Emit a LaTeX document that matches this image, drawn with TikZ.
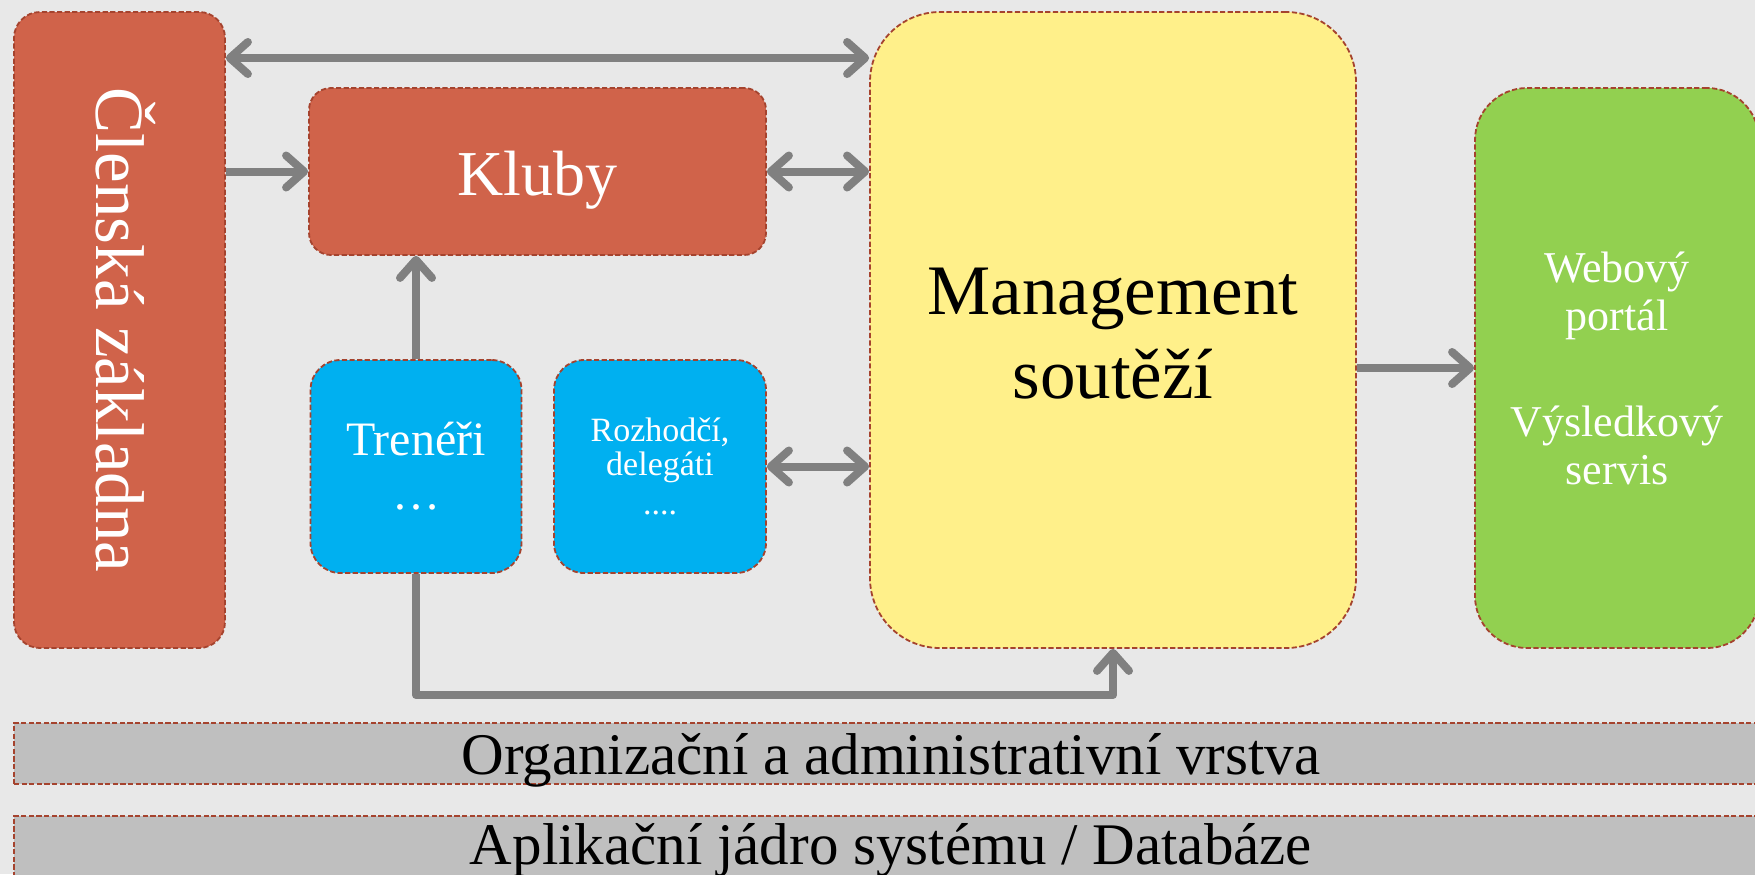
\documentclass[tikz,border=0pt]{standalone}
\usepackage{fontspec}
\setmainfont{Liberation Serif}
\usetikzlibrary{arrows.meta}

\definecolor{bggray}{HTML}{E8E8E8}
\definecolor{rust}{HTML}{D0634A}
\definecolor{lemon}{HTML}{FFF08A}
\definecolor{sky}{HTML}{00B0F0}
\definecolor{leaf}{HTML}{92D050}
\definecolor{layergray}{HTML}{BFBFBF}
\definecolor{edgered}{HTML}{A5432E}
\definecolor{linkgray}{HTML}{808080}

\newcommand{\nudge}[2]{\raisebox{#1}[\height][\depth]{#2}}

\begin{document}
\begin{tikzpicture}[x=0.5pt,y=-0.5pt,
        >={Straight Barb[length=9pt,width=16pt,round]},
        box/.style={draw=edgered,line width=0.9pt,dash pattern=on 2.6pt off 1.2pt,
            text=white,align=center,inner sep=0pt},
        layer/.style={box,fill=layergray,text=black,rounded corners=0pt,
            minimum width=877pt,font=\fontsize{29.5}{34}\selectfont},
        link/.style={draw=linkgray,line width=4pt,line join=round}]
        \useasboundingbox (0,0) rectangle (1755,874);
        \clip (0,0) rectangle (1755,874);
        \fill[bggray] (0,0) rectangle (1755,874);

        % boxes
        \node[box,fill=rust,minimum width=105.5pt,minimum height=318pt,rounded corners=13pt,
            font=\fontsize{34.5}{40}\selectfont] (clen) at (119.5,330)
            {\hspace*{6pt}\rotatebox{-90}{Členská základna}};
        \node[box,fill=rust,minimum width=228.5pt,minimum height=83.5pt,rounded corners=11pt,
            font=\fontsize{32}{38}\selectfont] (kluby) at (537.5,171.5) {\nudge{-4.5pt}{Kluby}};
        \node[box,fill=lemon,text=black,minimum width=243pt,minimum height=318pt,rounded corners=35pt,
            font=\fontsize{35.5}{42}\selectfont] (mgmt) at (1113,330)
            {\nudge{-4.75pt}{\begin{tabular}{@{}c@{}}Management\\soutěží\end{tabular}}};
        \node[box,fill=leaf,minimum width=142pt,minimum height=280pt,rounded corners=26pt,
            font=\fontsize{22}{24}\selectfont] (web) at (1617,368) {Webový\\portál\\[29pt]Výsledkový\\servis};
        \node[box,fill=sky,minimum width=105.5pt,minimum height=106.5pt,rounded corners=15pt,
            font=\fontsize{24}{27}\selectfont] (trener) at (416,466.5) {Trenéři\\…};
        \node[box,fill=sky,minimum width=106pt,minimum height=106.5pt,rounded corners=15pt,
            font=\fontsize{17}{17}\selectfont] (rozh) at (660,466.5) {Rozhodčí,\\delegáti\\[2.5pt]....};

        % layers
        \node[layer,minimum height=30.5pt] (orgbar) at (891,753.5)
            {\nudge{-3.4pt}{Organizační a administrativní vrstva}};
        \node[layer,minimum height=42pt] (appbar) at (891,858)
            {\nudge{4pt}{Aplikační jádro systému / Databáze}};

        % links
        \coordinate (toprow) at (0,58);
        \coordinate (bend) at (416,695);
        \draw[link,<->] (clen.east |- toprow) -- (mgmt.west |- toprow);
        \draw[link,->] (clen.east |- kluby.west) -- (kluby.west);
        \draw[link,<->] (kluby.east) -- (kluby.east -| mgmt.west);
        \draw[link,<->] (rozh.east) -- (rozh.east -| mgmt.west);
        \draw[link,->] (trener.north) -- (trener.north |- kluby.south);
        \draw[link,->] (mgmt.east |- web.west) -- (web.west);
        \draw[link,->] (trener.south) -- (bend) -| (mgmt.south);
\end{tikzpicture}
\end{document}
